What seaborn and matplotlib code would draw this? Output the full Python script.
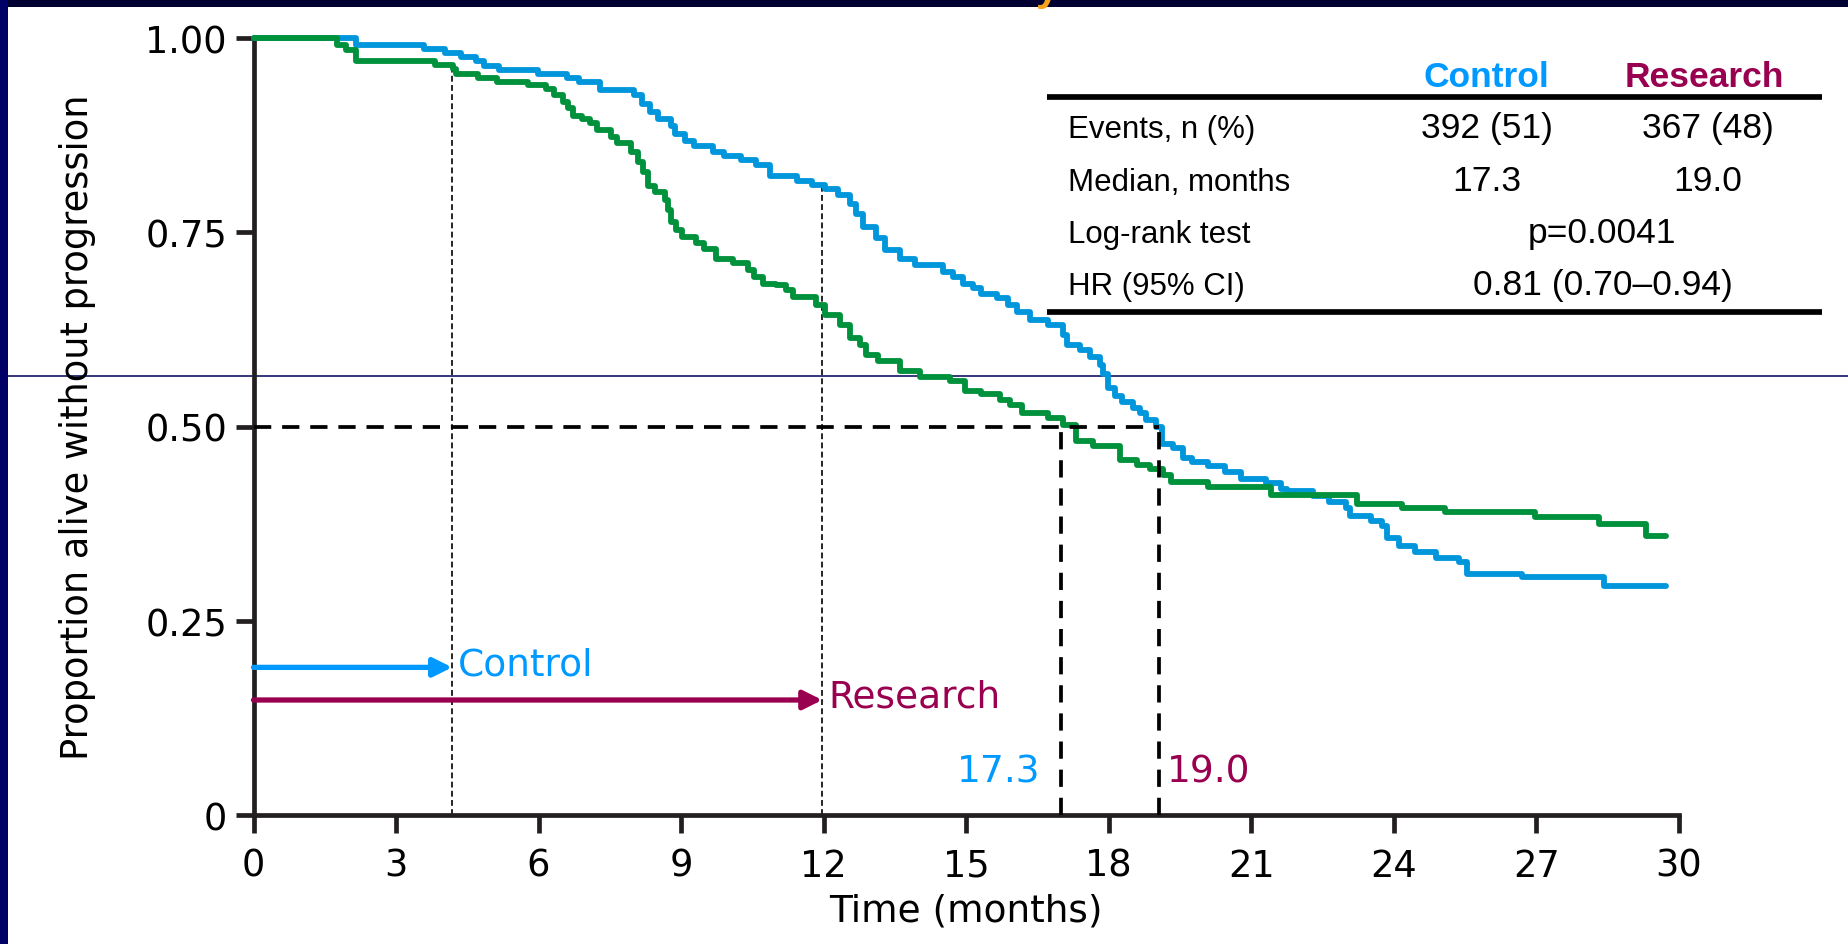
import numpy as np
import pandas as pd
import matplotlib
matplotlib.use("Agg")
import matplotlib.pyplot as plt
from matplotlib.lines import Line2D
from matplotlib.patches import Rectangle
import seaborn as sns

# ---------------- data ----------------
upper_time = [0, 2.15, 3.59, 4.03, 4.37, 4.68, 4.85, 5.16, 5.99, 6.60, 6.86, 7.30, 8.00,
              8.17, 8.34, 8.51, 8.78, 8.88, 9.09, 9.27, 9.66, 9.90, 10.26, 10.57, 10.88,
              11.44, 11.75, 12.03, 12.31, 12.55, 12.69, 12.83, 13.11, 13.29, 13.60, 13.92,
              14.52, 14.73, 14.94, 15.15, 15.32, 15.64, 15.88, 16.06, 16.34, 16.73, 17.04,
              17.11, 17.39, 17.60, 17.81, 17.88, 17.99, 18.13, 18.27, 18.51, 18.65, 18.79,
              19.00, 19.12, 19.35, 19.57, 19.75, 20.08, 20.45, 20.78, 21.30, 21.63, 21.74,
              22.30, 22.63, 23.00, 23.07, 23.52, 23.74, 23.85, 24.11, 24.44, 24.88, 25.36,
              25.54, 26.69, 28.42, 29.72]
upper_surv = [1.000, 0.991, 0.986, 0.981, 0.976, 0.970, 0.964, 0.959, 0.954, 0.949, 0.943,
              0.933, 0.926, 0.915, 0.905, 0.896, 0.887, 0.877, 0.868, 0.861, 0.853, 0.848,
              0.843, 0.836, 0.822, 0.816, 0.811, 0.806, 0.798, 0.787, 0.774, 0.757, 0.742,
              0.727, 0.716, 0.708, 0.699, 0.693, 0.684, 0.678, 0.671, 0.665, 0.656, 0.648,
              0.637, 0.631, 0.618, 0.605, 0.599, 0.590, 0.579, 0.567, 0.549, 0.539, 0.532,
              0.524, 0.517, 0.509, 0.500, 0.477, 0.472, 0.459, 0.454, 0.449, 0.442, 0.433,
              0.427, 0.420, 0.417, 0.410, 0.403, 0.395, 0.385, 0.379, 0.372, 0.356, 0.346,
              0.338, 0.331, 0.325, 0.310, 0.306, 0.295, 0.295]

lower_time = [0, 1.76, 1.94, 2.15, 3.81, 4.20, 4.27, 4.72, 5.12, 5.77, 6.16, 6.33, 6.51,
              6.62, 6.73, 6.91, 7.09, 7.23, 7.52, 7.66, 7.95, 8.09, 8.20, 8.31, 8.44, 8.65,
              8.72, 8.79, 8.90, 9.01, 9.31, 9.49, 9.74, 10.09, 10.40, 10.54, 10.72, 11.00,
              11.21, 11.35, 11.84, 12.03, 12.34, 12.55, 12.76, 12.90, 13.15, 13.60, 14.03,
              14.66, 14.97, 15.32, 15.71, 15.92, 16.17, 16.73, 17.04, 17.32, 17.67, 18.23,
              18.59, 18.87, 19.15, 19.31, 20.08, 21.41, 23.22, 24.18, 25.07, 26.98, 28.31,
              29.31, 29.72]
lower_surv = [1.000, 0.991, 0.985, 0.971, 0.965, 0.960, 0.954, 0.948, 0.943, 0.939, 0.934,
              0.927, 0.917, 0.910, 0.900, 0.896, 0.890, 0.881, 0.872, 0.865, 0.853, 0.840,
              0.828, 0.810, 0.802, 0.791, 0.778, 0.763, 0.753, 0.744, 0.736, 0.729, 0.716,
              0.710, 0.701, 0.693, 0.684, 0.682, 0.676, 0.667, 0.656, 0.644, 0.631, 0.614,
              0.605, 0.592, 0.584, 0.571, 0.564, 0.558, 0.546, 0.542, 0.534, 0.528, 0.517,
              0.511, 0.502, 0.481, 0.475, 0.457, 0.451, 0.445, 0.438, 0.429, 0.422, 0.412,
              0.400, 0.395, 0.390, 0.384, 0.375, 0.359, 0.359]

median_times = [17.0, 19.05]
median_labels = ["17.3", "19.0"]
landmark_times = [4.18, 11.97]
landmark_curves = ["lower", "upper"]
arm_names = ["Control", "Research"]
arrow_levels = [0.19, 0.148]

x_ticks = list(range(0, 31, 3))
y_ticks = [0, 0.25, 0.5, 0.75, 1.0]
y_tick_labels = ["0", "0.25", "0.50", "0.75", "1.00"]

table_rows = ["Events, n (%)", "Median, months", "Log-rank test", "HR (95% CI)"]
table_control = ["392 (51)", "17.3"]
table_research = ["367 (48)", "19.0"]
table_pvalue = "p=0.0041"
table_hr = "0.81 (0.70\u20130.94)"

# ---------------- style ----------------
BLUE_LINE = "#0096DC"
GREEN_LINE = "#00913C"
BLUE_TXT = "#0099FF"
MAROON = "#990050"
AXIS_C = "#231F20"

sns.set_style("ticks")
plt.rcParams["font.family"] = ["DejaVu Sans"]

W, H = 1849, 945
fig = plt.figure(figsize=(W / 100, H / 100), dpi=100, facecolor="white")
ax = fig.add_axes([253.5 / W, (H - 816) / H, 1425.5 / W, 777 / H])
ax.set_facecolor("none")

df = pd.concat([
    pd.DataFrame({"time": upper_time, "surv": upper_surv, "curve": "upper"}),
    pd.DataFrame({"time": lower_time, "surv": lower_surv, "curve": "lower"}),
], ignore_index=True)

sns.lineplot(data=df, x="time", y="surv", hue="curve",
             palette={"upper": BLUE_LINE, "lower": GREEN_LINE},
             estimator=None, sort=False, drawstyle="steps-post",
             linewidth=4.2, legend=False, clip_on=False, ax=ax, zorder=3)

def step_value(times, values, t):
    i = int(np.searchsorted(times, t, side="right")) - 1
    return values[max(i, 0)]

curves = {"upper": (upper_time, upper_surv), "lower": (lower_time, lower_surv)}

# thin dotted landmark lines
for t, c in zip(landmark_times, landmark_curves):
    top = step_value(*curves[c], t)
    ax.plot([t, t], [0, top], color="black", lw=1.2, ls=(0, (3.5, 2)), zorder=2)

# thick dashed median lines
ax.plot([0, max(median_times)], [0.5, 0.5], color="black", lw=2.7,
        ls=(0, (4.6, 2.9)), zorder=4, clip_on=False)
for t in median_times:
    ax.plot([t, t], [0, 0.5], color="black", lw=2.7, ls=(0, (4.6, 2.9)), zorder=4)

# arrows
arrow_colors = [BLUE_TXT, MAROON]
for t, lvl, name, col in zip(landmark_times, arrow_levels, arm_names, arrow_colors):
    ax.annotate("", xy=(t, lvl), xytext=(0, lvl),
                arrowprops=dict(arrowstyle="-|>", color=col, lw=3.8,
                                mutation_scale=28, shrinkA=0, shrinkB=0),
                zorder=5)
    ax.text(t + 0.12, lvl + 0.004, name, color=col, fontsize=27,
            va="center", ha="left")

# median labels
ax.text(median_times[0] - 0.45, 0.056, median_labels[0], color=BLUE_TXT,
        fontsize=27, ha="right", va="center")
ax.text(median_times[1] + 0.17, 0.056, median_labels[1], color=MAROON,
        fontsize=27, ha="left", va="center")

# axes
ax.set_xlim(0, 30)
ax.set_ylim(0, 1)
ax.set_xticks(x_ticks)
ax.set_xticklabels([str(v) for v in x_ticks])
ax.set_yticks(y_ticks)
ax.set_yticklabels(y_tick_labels)
for s in ["top", "right"]:
    ax.spines[s].set_visible(False)
for s in ["left", "bottom"]:
    ax.spines[s].set_linewidth(3.4)
    ax.spines[s].set_color(AXIS_C)
    ax.spines[s].set_capstyle("projecting")
ax.tick_params(axis="both", direction="out", length=13, width=3.4,
               color=AXIS_C, labelsize=26.5, labelcolor="black")
ax.tick_params(axis="x", pad=10)
ax.tick_params(axis="y", pad=6)

ax.set_xlabel("Time (months)", fontsize=27, color="black")
ax.xaxis.set_label_coords(0.5, -0.100)
ax.set_ylabel("Proportion alive without progression", fontsize=26.5, color="black")
ax.yaxis.set_label_coords(-0.1105, 0.5)

# ---------------- figure-level decorations ----------------
def fx(px):
    return px / W

def fy(py):
    return 1 - py / H

# thin navy horizontal rule across the slide
fig.lines.append(Line2D([fx(8), 1], [fy(377), fy(377)], transform=fig.transFigure,
                        color="#00005A", lw=1.1, zorder=-1))

# borders
fig.patches.append(Rectangle((0, fy(8)), 1, 8 / H, transform=fig.transFigure,
                             facecolor="#000033", edgecolor="none", zorder=1))
fig.patches.append(Rectangle((0, 0), 8 / W, 1, transform=fig.transFigure,
                             facecolor="#000066", edgecolor="none", zorder=1))
# cut-off title glyph (only its tail shows at the top edge, as in the reference)
fig.text(fx(1036), fy(0), "y", fontsize=30, fontweight="bold", color="#F7A21B",
         family=["Liberation Sans"], ha="left", va="baseline", zorder=5)

# table
for yy in (97.7, 313):
    fig.lines.append(Line2D([fx(1047), fx(1822)], [fy(yy), fy(yy)],
                            transform=fig.transFigure, color="black", lw=4.1,
                            solid_capstyle="butt", zorder=2))
tab_font = ["Liberation Sans"]
fig.text(fx(1486), fy(87), arm_names[0], fontsize=25.5, fontweight="bold",
         color=BLUE_TXT, family=tab_font, ha="center", va="baseline")
fig.text(fx(1704), fy(87), arm_names[1], fontsize=25.5, fontweight="bold",
         color=MAROON, family=tab_font, ha="center", va="baseline")
row_base = [138, 191, 243, 295]
for lab, yb in zip(table_rows, row_base):
    fig.text(fx(1068), fy(yb), lab, fontsize=22.5, family=tab_font,
             color="black", ha="left", va="baseline")
for i in range(2):
    fig.text(fx(1487), fy(row_base[i]), table_control[i], fontsize=25.5,
             family=tab_font, color="black", ha="center", va="baseline")
    fig.text(fx(1708), fy(row_base[i]), table_research[i], fontsize=25.5,
             family=tab_font, color="black", ha="center", va="baseline")
fig.text(fx(1602), fy(row_base[2]), table_pvalue, fontsize=25.5,
         family=tab_font, color="black", ha="center", va="baseline")
fig.text(fx(1603), fy(row_base[3]), table_hr, fontsize=25.5,
         family=tab_font, color="black", ha="center", va="baseline")

fig.savefig("out.png", dpi=100, facecolor="white")
